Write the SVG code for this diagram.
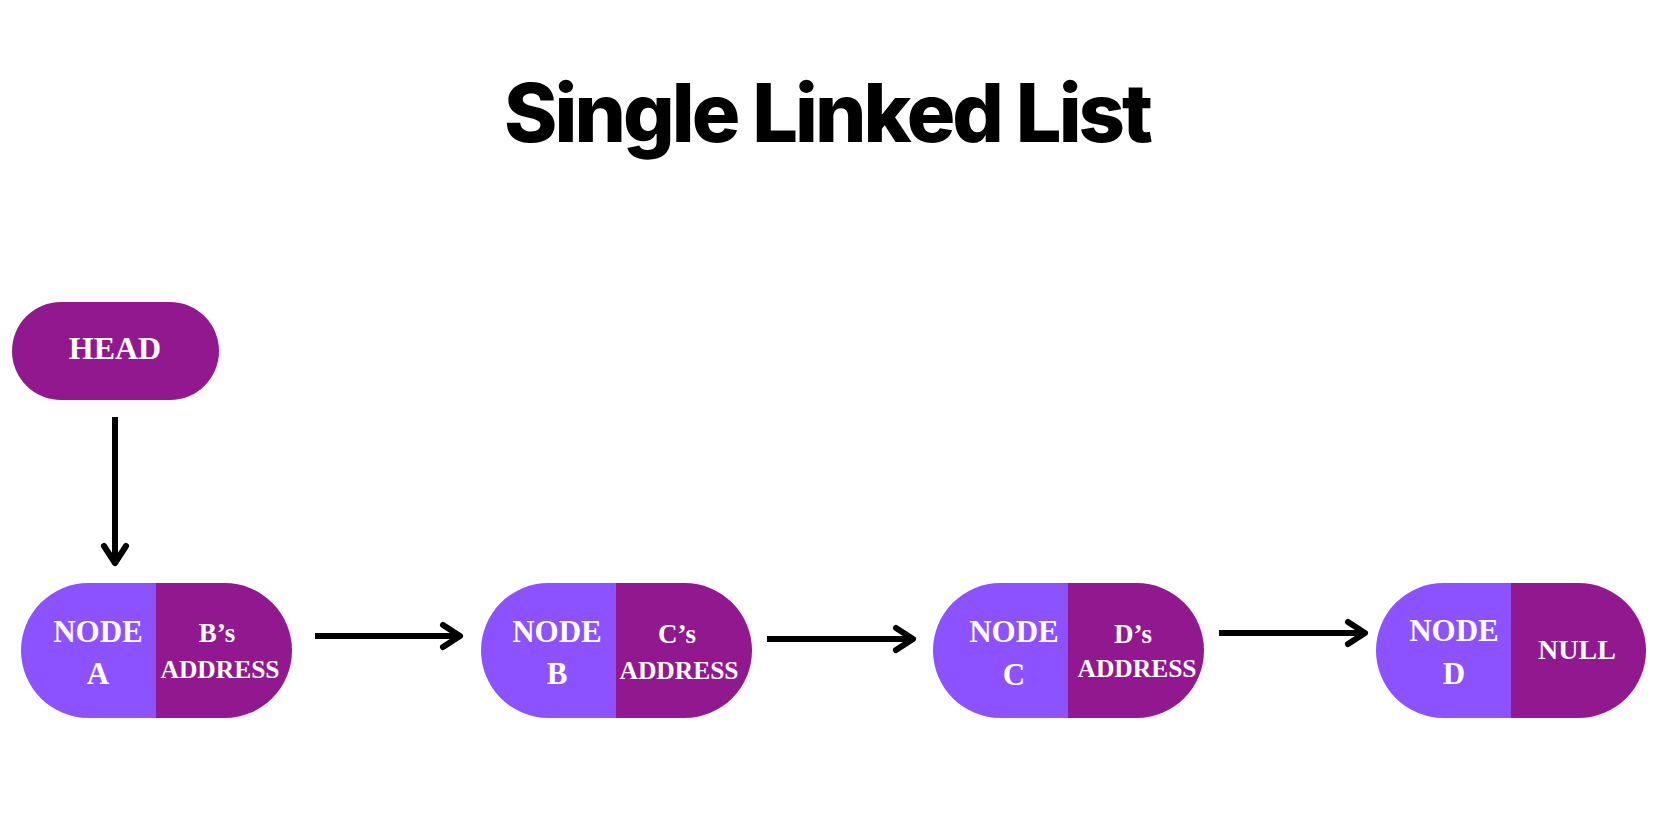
<svg xmlns="http://www.w3.org/2000/svg" width="1660" height="821" viewBox="0 0 1660 821">
<style>
.lt{fill:#8C52FF}
.dk{fill:#92188F}
.lbl{font-family:"Liberation Serif","DejaVu Serif",serif;font-weight:bold;fill:#ffffff;text-anchor:middle}
.big{font-size:31px}
.sm{font-size:25.5px}
.ttl{font-family:Inter,"Liberation Sans",sans-serif;font-weight:800;font-size:81px;fill:#000}
.conn{stroke:#000;stroke-width:6;fill:none}
</style>
<defs>
<marker id="arr" markerUnits="userSpaceOnUse" markerWidth="40" markerHeight="40" viewBox="-25 -20 40 40" refX="0" refY="0" orient="auto">
<path d="M-17,-11 L0,0 L-17,11" fill="none" stroke="#000" stroke-width="6" stroke-linecap="round" stroke-linejoin="round"/>
</marker>
</defs>
<rect width="1660" height="821" fill="#fff"/>
<text class="ttl" x="504" y="142" textLength="649" lengthAdjust="spacing">Single Linked List</text>

<g id="head">
<rect class="dk" x="12" y="302" width="207" height="98" rx="49"/>
<text class="lbl" x="115" y="359" font-size="32">HEAD</text>
</g>

<g id="nodeA">
<path class="lt" d="M88.5,583 H156 V718 H88.5 A67.5,67.5 0 0 1 88.5,583 Z"/>
<path class="dk" d="M156,583 H224.5 A67.5,67.5 0 0 1 224.5,718 H156 Z"/>
<text class="lbl big" x="98" y="642">NODE</text>
<text class="lbl big" x="98" y="684">A</text>
<text class="lbl" x="217" y="642" font-size="27">B’s</text>
<text class="lbl sm" x="220" y="678">ADDRESS</text>
</g>

<g id="nodeB">
<path class="lt" d="M548.5,583 H616 V718 H548.5 A67.5,67.5 0 0 1 548.5,583 Z"/>
<path class="dk" d="M616,583 H684.5 A67.5,67.5 0 0 1 684.5,718 H616 Z"/>
<text class="lbl big" x="557" y="642">NODE</text>
<text class="lbl big" x="557" y="684">B</text>
<text class="lbl" x="677" y="643" font-size="27">C’s</text>
<text class="lbl sm" x="679" y="679">ADDRESS</text>
</g>

<g id="nodeC">
<path class="lt" d="M1000.5,583 H1068 V718 H1000.5 A67.5,67.5 0 0 1 1000.5,583 Z"/>
<path class="dk" d="M1068,583 H1136.5 A67.5,67.5 0 0 1 1136.5,718 H1068 Z"/>
<text class="lbl big" x="1014" y="642">NODE</text>
<text class="lbl big" x="1014" y="685">C</text>
<text class="lbl" x="1133" y="643" font-size="27">D’s</text>
<text class="lbl sm" x="1137" y="677">ADDRESS</text>
</g>

<g id="nodeD">
<path class="lt" d="M1443.5,583 H1511 V718 H1443.5 A67.5,67.5 0 0 1 1443.5,583 Z"/>
<path class="dk" d="M1511,583 H1578.5 A67.5,67.5 0 0 1 1578.5,718 H1511 Z"/>
<text class="lbl big" x="1454" y="641">NODE</text>
<text class="lbl big" x="1454" y="684">D</text>
<text class="lbl" x="1577" y="659" font-size="28">NULL</text>
</g>

<g id="connectors">
<line class="conn" x1="115" y1="417" x2="115" y2="563" marker-end="url(#arr)"/>
<line class="conn" x1="315" y1="636" x2="460" y2="636" marker-end="url(#arr)"/>
<line class="conn" x1="767" y1="639" x2="913" y2="639" marker-end="url(#arr)"/>
<line class="conn" x1="1219" y1="633" x2="1365" y2="633" marker-end="url(#arr)"/>
</g>
</svg>
